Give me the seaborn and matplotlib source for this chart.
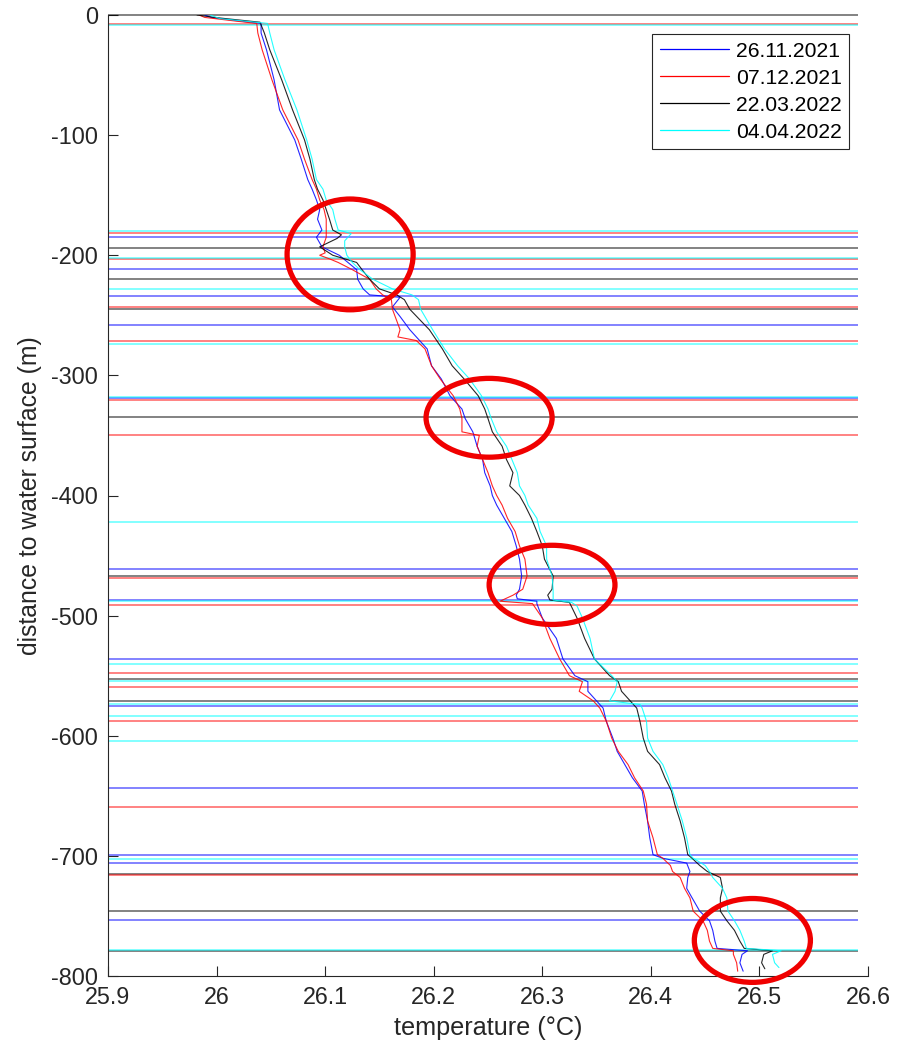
import numpy as np
import pandas as pd
import matplotlib
matplotlib.use("Agg")
import matplotlib.pyplot as plt
import seaborn as sns
from matplotlib.patches import Ellipse
from matplotlib.lines import Line2D
from matplotlib.ticker import FuncFormatter, FixedLocator

# ---------------- data ----------------
dates = ["26.11.2021", "07.12.2021", "22.03.2022", "04.04.2022"]

blue_depth = [0, -2, -5, -7, -15, -29, -54, -79, -104, -120, -137, -145, -154, -162, -170,
              -179, -185, -193, -200, -206, -212, -220, -228, -233, -235, -243, -251, -262, -278, -292,
              -303, -317, -328, -336, -347, -359, -370, -381, -392, -400, -408, -419, -430, -442, -453,
              -467, -478, -483, -486, -488, -490, -502, -519, -536, -550, -555, -563, -571, -577, -588,
              -602, -613, -624, -635, -646, -657, -671, -685, -699, -702, -706, -713, -718, -727, -735,
              -746, -754, -762, -771, -777, -779, -782, -789, -796]
blue_temp = [25.989, 25.995, 26.021, 26.041, 26.041, 26.046, 26.053, 26.058, 26.072, 26.078,
             26.084, 26.088, 26.092, 26.095, 26.093, 26.097, 26.092, 26.097, 26.113, 26.121,
             26.129, 26.130, 26.135, 26.141, 26.169, 26.162, 26.169, 26.178, 26.194, 26.198,
             26.207, 26.215, 26.226, 26.229, 26.236, 26.240, 26.245, 26.247, 26.252, 26.254,
             26.258, 26.265, 26.272, 26.276, 26.279, 26.281, 26.279, 26.276, 26.277, 26.295,
             26.295, 26.300, 26.313, 26.319, 26.330, 26.342, 26.342, 26.350, 26.356, 26.359,
             26.365, 26.369, 26.376, 26.383, 26.392, 26.394, 26.397, 26.399, 26.402, 26.411,
             26.433, 26.436, 26.434, 26.433, 26.438, 26.445, 26.454, 26.457, 26.459, 26.461,
             26.489, 26.484, 26.482, 26.485]

red_depth = [0, -2, -5, -7, -15, -29, -54, -79, -104, -120, -137, -145, -154, -162, -170,
             -179, -185, -193, -198, -200, -203, -206, -212, -220, -228, -233, -237, -245, -262, -268,
             -271, -278, -292, -303, -317, -328, -336, -347, -350, -359, -370, -381, -392, -400, -408,
             -419, -430, -442, -453, -467, -478, -483, -488, -490, -502, -519, -536, -550, -555, -563,
             -571, -577, -588, -602, -613, -624, -635, -646, -657, -671, -685, -699, -702, -708, -713,
             -718, -727, -735, -746, -754, -762, -771, -777, -779, -782, -789, -796]
red_temp = [25.984, 25.989, 26.017, 26.037, 26.038, 26.042, 26.051, 26.061, 26.075, 26.081,
            26.088, 26.092, 26.095, 26.099, 26.101, 26.101, 26.101, 26.098, 26.100, 26.095,
            26.104, 26.112, 26.125, 26.141, 26.147, 26.153, 26.161, 26.162, 26.169, 26.167,
            26.184, 26.192, 26.198, 26.206, 26.218, 26.224, 26.226, 26.226, 26.242, 26.240,
            26.245, 26.250, 26.254, 26.258, 26.263, 26.268, 26.275, 26.279, 26.284, 26.286,
            26.282, 26.273, 26.261, 26.291, 26.300, 26.307, 26.316, 26.325, 26.337, 26.334,
            26.347, 26.353, 26.359, 26.364, 26.370, 26.379, 26.385, 26.393, 26.396, 26.397,
            26.402, 26.406, 26.411, 26.418, 26.420, 26.427, 26.431, 26.436, 26.439, 26.448,
            26.452, 26.454, 26.457, 26.476, 26.476, 26.479, 26.480]

black_depth = [0, -2, -6, -15, -29, -54, -79, -104, -120, -137, -145, -154, -162, -170, -179,
               -183, -186, -193, -200, -206, -212, -220, -228, -233, -237, -245, -262, -278, -292, -303,
               -317, -328, -336, -347, -359, -370, -381, -392, -400, -408, -419, -430, -442, -453, -467,
               -478, -483, -487, -489, -502, -519, -536, -550, -555, -563, -571, -577, -588, -602, -613,
               -624, -635, -646, -657, -671, -685, -699, -702, -708, -713, -718, -727, -735, -746, -754,
               -762, -771, -777, -779, -782, -789, -794]
black_temp = [25.982, 25.998, 26.040, 26.044, 26.049, 26.060, 26.070, 26.081, 26.086, 26.090,
              26.093, 26.098, 26.101, 26.104, 26.107, 26.115, 26.111, 26.095, 26.107, 26.129,
              26.134, 26.141, 26.150, 26.166, 26.173, 26.178, 26.196, 26.208, 26.217, 26.228,
              26.241, 26.247, 26.250, 26.254, 26.263, 26.267, 26.273, 26.270, 26.279, 26.284,
              26.290, 26.295, 26.300, 26.302, 26.310, 26.309, 26.305, 26.307, 26.325, 26.332,
              26.339, 26.348, 26.362, 26.370, 26.373, 26.381, 26.387, 26.390, 26.393, 26.397,
              26.408, 26.413, 26.419, 26.422, 26.427, 26.431, 26.434, 26.438, 26.445, 26.452,
              26.464, 26.466, 26.464, 26.464, 26.470, 26.477, 26.482, 26.486, 26.512, 26.504,
              26.502, 26.505]

cyan_depth = [0, -3, -7, -15, -29, -54, -79, -104, -120, -137, -145, -154, -162, -170, -179,
              -182, -188, -193, -200, -206, -212, -220, -228, -233, -237, -245, -262, -278, -292, -303,
              -317, -328, -336, -347, -359, -370, -381, -392, -400, -408, -419, -430, -442, -453, -467,
              -478, -487, -489, -492, -502, -519, -536, -550, -555, -563, -571, -574, -577, -588, -602,
              -613, -624, -635, -646, -657, -671, -685, -699, -702, -708, -713, -718, -727, -735, -746,
              -754, -762, -771, -777, -779, -782, -789, -793]
cyan_temp = [25.994, 26.003, 26.047, 26.049, 26.053, 26.063, 26.074, 26.083, 26.088, 26.092,
             26.098, 26.101, 26.107, 26.109, 26.112, 26.124, 26.118, 26.118, 26.120, 26.125,
             26.132, 26.144, 26.162, 26.180, 26.186, 26.188, 26.199, 26.210, 26.222, 26.233,
             26.244, 26.250, 26.253, 26.258, 26.267, 26.272, 26.277, 26.279, 26.284, 26.287,
             26.295, 26.298, 26.304, 26.304, 26.309, 26.310, 26.310, 26.327, 26.332, 26.337,
             26.344, 26.348, 26.364, 26.369, 26.367, 26.362, 26.390, 26.392, 26.396, 26.397,
             26.402, 26.411, 26.416, 26.420, 26.424, 26.429, 26.433, 26.436, 26.439, 26.450,
             26.454, 26.457, 26.466, 26.470, 26.471, 26.477, 26.482, 26.486, 26.488, 26.520,
             26.512, 26.514, 26.518]

# depths of the horizontal marker lines, per measurement date
blue_marks = [-185.2, -211.8, -234.0, -258.3, -318.7, -461.2, -486.7, -535.7, -575.6,
              -643.4, -699.3, -705.7, -753.1]
red_marks = [-7.2, -181.3, -203.2, -243.1, -271.0, -320.6, -349.4, -469.0, -491.4, -547.9,
             -559.8, -588.0, -659.2, -716.0]
black_marks = [0.0, -193.8, -219.9, -244.8, -334.5, -467.4, -552.9, -571.2, -715.4, -745.6,
               -778.8]
cyan_marks = [-8.0, -180.2, -202.1, -228.4, -273.5, -318.1, -421.9, -487.8, -540.1, -554.6,
              -573.9, -583.5, -604.7, -702.7, -778.5]

# highlighted regions (temperature, depth)
circle_temp = [26.123, 26.251, 26.309, 26.4935]
circle_depth = [-199.3, -335.3, -474.4, -770.4]

x_ticks = [25.9, 26.0, 26.1, 26.2, 26.3, 26.4, 26.5, 26.6]
y_ticks = [-800, -700, -600, -500, -400, -300, -200, -100, 0]

# ---------------- style ----------------
colors = {dates[0]: "#0000ff", dates[1]: "#ff0000", dates[2]: "#000000", dates[3]: "#00ffff"}
sns.set_theme(style="white")
plt.rcParams["font.family"] = ["Liberation Sans", "DejaVu Sans"]
plt.rcParams["axes.unicode_minus"] = False
dark = "#262626"

fig = plt.figure(figsize=(9.1, 10.55), dpi=100)
ax = fig.add_axes([108 / 910, 1 - 976 / 1055, 760 / 910, 961 / 1055])

# horizontal marker lines
x_end = 26.591
for marks, d in [(black_marks, dates[2]), (blue_marks, dates[0]),
                 (red_marks, dates[1]), (cyan_marks, dates[3])]:
    ax.hlines(marks, x_ticks[0], x_end, colors=colors[d], lw=1.15, alpha=0.6,
              clip_on=False, zorder=1)

# profiles
frames = []
for d, dep, tmp in [(dates[0], blue_depth, blue_temp), (dates[1], red_depth, red_temp),
                    (dates[2], black_depth, black_temp), (dates[3], cyan_depth, cyan_temp)]:
    frames.append(pd.DataFrame({"temp": tmp, "depth": dep, "date": d}))
df = pd.concat(frames, ignore_index=True)
sns.lineplot(data=df, x="temp", y="depth", hue="date", hue_order=dates, palette=colors,
             sort=False, estimator=None, lw=0.8, alpha=0.85, legend=False, ax=ax, zorder=2)

# red highlight ellipses
ell_w = [0.1161, 0.1161, 0.1159, 0.1069]
ell_h = [92.2, 65.6, 65.9, 69.8]
for cx, cy, w, h in zip(circle_temp, circle_depth, ell_w, ell_h):
    ax.add_patch(Ellipse((cx, cy), w, h, fill=False, edgecolor="#f00000", lw=3.8,
                         clip_on=False, zorder=5))

ax.set_xlim(25.9, 26.6)
ax.set_ylim(-800, 0)
ax.xaxis.set_major_locator(FixedLocator(x_ticks))
ax.yaxis.set_major_locator(FixedLocator(y_ticks))
fmt = FuncFormatter(lambda v, p: f"{v:g}")
ax.xaxis.set_major_formatter(fmt)
ax.yaxis.set_major_formatter(fmt)
ax.tick_params(axis="both", which="major", direction="in", length=7, width=0.8,
               color=dark, labelcolor=dark, labelsize=16.8, pad=7,
               bottom=True, left=True, top=False, right=False)
for side in ["top", "right"]:
    ax.spines[side].set_visible(False)
for side in ["left", "bottom"]:
    ax.spines[side].set_color(dark)
    ax.spines[side].set_linewidth(0.8)

ax.set_xlabel("temperature (°C)", fontsize=18.2, color=dark, labelpad=5)
ax.set_ylabel("distance to water surface (m)", fontsize=17.8, color=dark, labelpad=7)

handles = [Line2D([0], [0], color=colors[d], lw=0.9) for d in dates]
leg = ax.legend(handles, dates, loc="upper right", bbox_to_anchor=(0.975, 0.980),
                borderaxespad=0, fontsize=15.2, handlelength=3.3, handletextpad=0.3,
                labelspacing=0.38, borderpad=0.35, fancybox=False, framealpha=1,
                edgecolor=dark)
leg.get_frame().set_linewidth(0.8)
for t in leg.get_texts():
    t.set_color("#000000")

fig.savefig("out.png", dpi=100, facecolor="white")
